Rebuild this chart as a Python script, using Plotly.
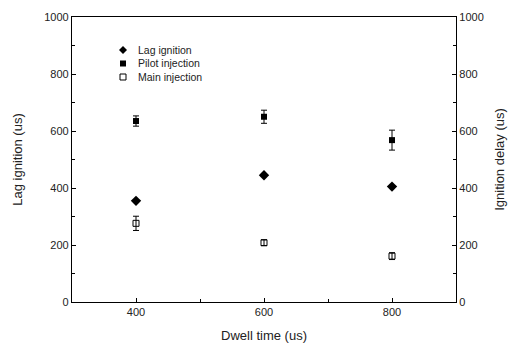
import plotly.graph_objects as go

dwell = [400, 600, 800]
lag_ignition = [355, 445, 405]
pilot_injection = [635, 650, 568]
pilot_err = [18, 23, 35]
main_injection = [276, 208, 161]
main_err = [25, 10, 12]

series_names = ["Lag ignition", "Pilot injection", "Main injection"]
x_ticks = [400, 600, 800]
y_ticks = [0, 200, 400, 600, 800, 1000]

font = "Liberation Sans, Arial, sans-serif"
fig = go.Figure()
fig.add_trace(go.Scatter(x=dwell, y=lag_ignition, mode="markers", name=series_names[0],
                         marker=dict(symbol="diamond", size=8, color="black")))
fig.add_trace(go.Scatter(x=dwell, y=pilot_injection, mode="markers", name=series_names[1],
                         marker=dict(symbol="square", size=6, color="black"),
                         error_y=dict(type="data", array=pilot_err, color="black", thickness=1, width=3),
                         yaxis="y2"))
fig.add_trace(go.Scatter(x=dwell, y=main_injection, mode="markers", name=series_names[2],
                         marker=dict(symbol="square-open", size=6, color="black", line=dict(width=1)),
                         error_y=dict(type="data", array=main_err, color="black", thickness=1, width=3),
                         yaxis="y2"))

# Manual compact legend (positions in pixels converted to paper coords)
L, R, T, B = 72, 456, 17, 302
def px(x):
    return (x - L) / (R - L)
def py(y):
    return (B - y) / (B - T)

rows = [50, 63.5, 77]
sx, tx = 123, 136
for name, ry in zip(series_names, rows):
    fig.add_annotation(x=px(tx), y=py(ry), xref="paper", yref="paper", text=name,
                       showarrow=False, xanchor="left", yanchor="middle",
                       font=dict(family=font, size=10.5, color="#222"))
d = 4
fig.add_shape(type="path", xref="paper", yref="paper",
              path=f"M {px(sx)} {py(rows[0]-d)} L {px(sx+d)} {py(rows[0])} L {px(sx)} {py(rows[0]+d)} L {px(sx-d)} {py(rows[0])} Z",
              fillcolor="black", line=dict(width=0))
s = 3
fig.add_shape(type="rect", xref="paper", yref="paper",
              x0=px(sx - s), x1=px(sx + s), y0=py(rows[1] + s), y1=py(rows[1] - s),
              fillcolor="black", line=dict(width=0))
fig.add_shape(type="rect", xref="paper", yref="paper",
              x0=px(sx - s), x1=px(sx + s), y0=py(rows[2] + s), y1=py(rows[2] - s),
              fillcolor="white", line=dict(width=1, color="black"))

axis_common = dict(showline=True, linecolor="black", linewidth=1.2, ticks="inside",
                   ticklen=4, tickcolor="black", showgrid=False, zeroline=False,
                   automargin=False,
                   tickfont=dict(family=font, size=11, color="#222"))
fig.update_layout(
    width=510, height=347,
    margin=dict(l=72, r=54, t=17, b=45),
    paper_bgcolor="white", plot_bgcolor="white",
    font=dict(family=font, color="#222"),
    showlegend=False,
    xaxis=dict(range=[300, 900], tickvals=x_ticks, mirror=True,
               minor=dict(tickvals=[500, 700], ticks="inside", ticklen=3, tickcolor="black"),
               title=dict(text="Dwell time (us)", font=dict(family=font, size=13), standoff=13),
               **axis_common),
    yaxis=dict(range=[0, 1000], tickvals=y_ticks,
               minor=dict(dtick=100, ticks="inside", ticklen=3, tickcolor="black"),
               title=dict(text="Lag ignition (us)", font=dict(family=font, size=13), standoff=18),
               **axis_common),
    yaxis2=dict(range=[0, 1000], tickvals=y_ticks, overlaying="y", side="right",
                minor=dict(dtick=100, ticks="inside", ticklen=3, tickcolor="black"),
                title=dict(text="Ignition delay (us)", font=dict(family=font, size=13), standoff=12),
                **axis_common),
)
fig.write_html("out.html")
